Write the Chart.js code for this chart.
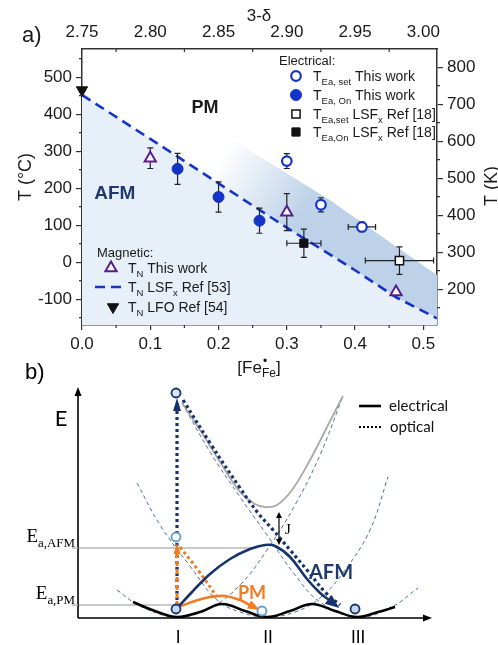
<!DOCTYPE html>
<html>
<head>
<meta charset="utf-8">
<script src="https://cdn.jsdelivr.net/npm/chart.js@4.4.1/dist/chart.umd.min.js"></script>
<style>
  html, body { margin: 0; padding: 0; background: #fff; }
  #wrap { position: relative; width: 498px; height: 645px; }
  #wrap canvas { position: absolute; left: 0; top: 0; }
</style>
</head>
<body>
<div id="wrap">
  <canvas id="phase" width="498" height="645"></canvas>
  <canvas id="scheme" width="498" height="645"></canvas>
</div>
<script>
// ---- panel a) : transition temperatures vs [Fe•Fe], T in °C ----
const afmLineX = [0, 0.1, 0.2, 0.3, 0.4, 0.46, 0.52];
const afmLineT = [452, 333, 213, 93, -22, -95, -152];
const bandTopX = [0.17, 0.25, 0.363, 0.45, 0.52];
const bandTopT = [400, 297, 168, 55, -35];

const setWorkX = [0.30, 0.35, 0.41];
const setWorkT = [273, 155, 95];
const setWorkErrT = [20, 19, 13];
const setWorkErrX = [0, 0, 0.02];

const onWorkX = [0.14, 0.20, 0.26];
const onWorkT = [252, 176, 112];
const onWorkErrT = [42, 41, 34];

const setRefX = [0.465];
const setRefT = [4];
const setRefErrT = [37];
const setRefErrX = [0.05];

const onRefX = [0.325];
const onRefT = [51];
const onRefErrT = [38];
const onRefErrX = [0.025];

const tnWorkX = [0.10, 0.30, 0.46];
const tnWorkT = [281, 135, -81];
const tnWorkErrT = [28, 50, 0];

const tnLfoX = [0];
const tnLfoT = [465];

const tempTicks = [-100, 0, 100, 200, 300, 400, 500];
const tempMinor = [-150, -50, 50, 150, 250, 350, 450, 550];
const kelvinTicks = [200, 300, 400, 500, 600, 700, 800];
const kelvinMinor = [150, 250, 350, 450, 550, 650, 750];
const feTicks = [0, 0.1, 0.2, 0.3, 0.4, 0.5];
const feMinor = [0.05, 0.15, 0.25, 0.35, 0.45];
const oxyTicks = [2.75, 2.80, 2.85, 2.90, 2.95, 3.00];
const oxyMinor = [2.775, 2.825, 2.875, 2.925, 2.975];

// ---- panel b) : configuration coordinate q (sites I, II, III at 1, 2, 3), energy E (arb.) ----
const groundQ = [0.511, 0.756, 1.0, 1.256, 1.5, 1.756, 2.0, 2.256, 2.5, 2.756, 3.0, 3.233, 3.422];
const groundE = [0.16, 0.07, 0.01, 0.06, 0.14, 0.07, 0.01, 0.07, 0.14, 0.07, 0.01, 0.06, 0.11];
const upperQ = [1.056, 1.256, 1.478, 1.7, 1.867, 1.978, 2.111, 2.278, 2.478, 2.678, 2.844];
const upperE = [2.15, 1.88, 1.56, 1.26, 1.14, 1.11, 1.13, 1.28, 1.58, 1.93, 2.22];
const paraIQ = [0.333, 0.589, 1.0, 1.367, 1.7, 2.0, 2.311, 2.589, 2.844];
const paraIE = [0.28, 0.12, 0.01, 0.10, 0.33, 0.68, 1.13, 1.63, 2.22];
const paraIIQ = [0.556, 0.811, 1.144, 1.444, 1.7, 2.0, 2.311, 2.589, 2.867, 3.144, 3.344];
const paraIIE = [1.35, 0.93, 0.52, 0.18, 0.06, 0.01, 0.06, 0.20, 0.48, 0.88, 1.41];
const paraIIIQ = [1.056, 1.367, 1.7, 2.0, 2.311, 2.589, 3.0, 3.367, 3.678];
const paraIIIE = [2.15, 1.66, 1.21, 0.83, 0.43, 0.16, 0.01, 0.10, 0.30];

const afmPathQ = [1.022, 1.167, 1.367, 1.589, 1.811, 1.978, 2.089, 2.256, 2.444, 2.589, 2.689];
const afmPathE = [0.12, 0.26, 0.44, 0.59, 0.69, 0.73, 0.72, 0.61, 0.39, 0.25, 0.18];
const pmPathQ = [1.044, 1.2, 1.367, 1.533, 1.7, 1.811];
const pmPathE = [0.12, 0.17, 0.21, 0.22, 0.18, 0.13];
const optAfmQ = [1.067, 1.367, 1.7, 1.9, 2.067, 2.256, 2.444, 2.644, 2.811];
const optAfmE = [2.18, 1.75, 1.30, 1.05, 0.88, 0.68, 0.48, 0.26, 0.13];
const optPmQ = [1.033, 1.233, 1.444];
const optPmE = [0.71, 0.48, 0.21];
const exciteQ = [1, 1];
const exciteAfmE = [0.12, 2.08];
const excitePmE = [0.12, 0.65];

const levelAfm = 0.70;
const levelPm = 0.13;
const levelAfmEnd = 1.89;
const levelPmEnd = 1.0;
const gapQ = 2.133;
const gapE = [0.73, 1.06];

const stateQ = [0.989, 0.989, 0.989, 1.944, 2.978];
const stateE = [0.09, 0.81, 2.25, 0.07, 0.09];
const siteQ = [1, 2, 3];
const siteLabels = ['I', 'II', 'III'];

// ---- styling ----
const SANS = '"Liberation Sans", Arial, sans-serif';
const SERIF = '"Liberation Serif", "DejaVu Serif", serif';
const SOFT = 'Lato, "Open Sans", sans-serif';
const axisColor = '#333';
const textColor = '#1a1a1a';
const blue = '#1434c8';
const purple = '#5a1d8c';
const navy = '#17336b';
const orange = '#ee7d24';
const lightBlue = '#5b9bd5';
const afmFill = '#e7eff8';
const bandRGB = '189,210,232';

Chart.defaults.font.family = SANS;
Chart.defaults.color = textColor;

const pts = (xs, ys) => xs.map((x, i) => ({ x, y: ys[i] }));

function richText(ctx, x, y, parts, size, family, align) {
  const sub = size * 0.68;
  const pieces = parts.map(([t, k]) => {
    ctx.font = `${k ? sub : size}px ${family}`;
    return { t, k, w: ctx.measureText(t).width };
  });
  const total = pieces.reduce((s, p) => s + p.w, 0);
  let cx = align === 'center' ? x - total / 2 : align === 'right' ? x - total : x;
  ctx.textAlign = 'left';
  ctx.textBaseline = 'alphabetic';
  pieces.forEach(p => {
    ctx.font = `${p.k ? sub : size}px ${family}`;
    const dy = p.k === 'sub' ? size * 0.28 : p.k === 'sup' ? -size * 0.42 : 0;
    ctx.fillText(p.t, cx, y + dy);
    cx += p.w;
  });
}

function arrowHead(ctx, x, y, ang, len, half) {
  const c = Math.cos(ang), s = Math.sin(ang);
  ctx.beginPath();
  ctx.moveTo(x, y);
  ctx.lineTo(x - len * c + half * s, y - len * s - half * c);
  ctx.lineTo(x - len * c - half * s, y - len * s + half * c);
  ctx.closePath();
  ctx.fill();
}

// error bars drawn just before their markers
const errorBars = {
  id: 'errorBars',
  beforeDatasetDraw(chart, args) {
    const ds = chart.data.datasets[args.index];
    if (!ds.errT && !ds.errX) return;
    const { x, y } = chart.scales;
    const ctx = chart.ctx;
    ctx.save();
    ctx.strokeStyle = '#222';
    ctx.lineWidth = 1.2;
    ds.data.forEach((p, i) => {
      const px = x.getPixelForValue(p.x), py = y.getPixelForValue(p.y);
      const et = ds.errT ? ds.errT[i] : 0, ex = ds.errX ? ds.errX[i] : 0;
      ctx.beginPath();
      if (et) {
        const t = y.getPixelForValue(p.y + et), b = y.getPixelForValue(p.y - et);
        ctx.moveTo(px, t); ctx.lineTo(px, b);
        ctx.moveTo(px - 3, t); ctx.lineTo(px + 3, t);
        ctx.moveTo(px - 3, b); ctx.lineTo(px + 3, b);
      }
      if (ex) {
        const l = x.getPixelForValue(p.x - ex), r = x.getPixelForValue(p.x + ex);
        ctx.moveTo(l, py); ctx.lineTo(r, py);
        ctx.moveTo(l, py - 3); ctx.lineTo(l, py + 3);
        ctx.moveTo(r, py - 3); ctx.lineTo(r, py + 3);
      }
      ctx.stroke();
    });
    ctx.restore();
  }
};

// minor ticks, titles, region names and the two legends of panel a)
const phaseDecor = {
  id: 'phaseDecor',
  afterDraw(chart) {
    const ctx = chart.ctx;
    const { x, y, x2, y2 } = chart.scales;
    const a = chart.chartArea;
    ctx.save();
    ctx.strokeStyle = axisColor;
    ctx.lineWidth = 1.2;
    ctx.beginPath();
    tempMinor.forEach(v => { const p = y.getPixelForValue(v); ctx.moveTo(a.left, p); ctx.lineTo(a.left - 3, p); });
    kelvinMinor.forEach(v => { const p = y2.getPixelForValue(v); ctx.moveTo(a.right, p); ctx.lineTo(a.right + 3, p); });
    feMinor.forEach(v => { const p = x.getPixelForValue(v); ctx.moveTo(p, a.bottom); ctx.lineTo(p, a.bottom + 3); });
    oxyMinor.forEach(v => { const p = x2.getPixelForValue(v); ctx.moveTo(p, a.top); ctx.lineTo(p, a.top + 3); });
    ctx.stroke();

    ctx.fillStyle = textColor;
    ctx.font = `22px ${SANS}`;
    ctx.textAlign = 'left';
    ctx.fillText('a)', 22, 42);
    ctx.font = `17px ${SANS}`;
    ctx.textAlign = 'center';
    ctx.fillText('3-\u03b4', 259, 21);

    // [Fe•Fe] with stacked charge dot and site subscript
    ctx.font = `17px ${SANS}`;
    const w1 = ctx.measureText('[Fe').width;
    ctx.font = `12px ${SANS}`;
    const w2 = ctx.measureText('Fe').width;
    ctx.font = `17px ${SANS}`;
    const w3 = ctx.measureText(']').width;
    let bx = 259 - (w1 + w2 + w3) / 2;
    const by = 373;
    ctx.textAlign = 'left';
    ctx.fillText('[Fe', bx, by);
    ctx.font = `12px ${SANS}`;
    ctx.fillText('Fe', bx + w1, by + 4);
    ctx.fillText('\u2022', bx + w1 + 1, by - 8);
    ctx.font = `17px ${SANS}`;
    ctx.fillText(']', bx + w1 + w2, by);

    ctx.font = `18px ${SANS}`;
    ctx.textAlign = 'center';
    ctx.save(); ctx.translate(31, 177); ctx.rotate(-Math.PI / 2); ctx.fillText('T (\u00b0C)', 0, 0); ctx.restore();
    ctx.save(); ctx.translate(497, 186); ctx.rotate(-Math.PI / 2); ctx.fillText('T (K)', 0, 0); ctx.restore();

    ctx.font = `bold 18px ${SANS}`;
    ctx.fillText('PM', x.getPixelForValue(0.18), y.getPixelForValue(420) + 6);
    ctx.fillStyle = '#1f3a6e';
    ctx.font = `bold 19px ${SANS}`;
    ctx.fillText('AFM', x.getPixelForValue(0.048), y.getPixelForValue(190) + 7);

    // Electrical legend
    ctx.fillStyle = textColor;
    ctx.font = `13px ${SANS}`;
    ctx.textAlign = 'left';
    ctx.fillText('Electrical:', 279, 65);
    const eRows = [
      [0, [['T', ''], ['Ea, set', 'sub'], [' This work', '']]],
      [1, [['T', ''], ['Ea, On', 'sub'], [' This work', '']]],
      [2, [['T', ''], ['Ea,set', 'sub'], [' LSF', ''], ['x', 'sub'], [' Ref [18]', '']]],
      [3, [['T', ''], ['Ea,On', 'sub'], [' LSF', ''], ['x', 'sub'], [' Ref [18]', '']]]
    ];
    const eY = [76, 95, 114, 132];
    eRows.forEach(([di, parts], i) => {
      legendMarker(ctx, chart.data.datasets[di], 296, eY[i]);
      ctx.fillStyle = textColor;
      richText(ctx, 313, eY[i] + 5, parts, 14, SANS, 'left');
    });

    // Magnetic legend
    ctx.fillStyle = textColor;
    ctx.font = `13px ${SANS}`;
    ctx.fillText('Magnetic:', 97, 257);
    legendMarker(ctx, chart.data.datasets[4], 111, 268);
    legendMarker(ctx, chart.data.datasets[5], 113, 307);
    ctx.save();
    ctx.strokeStyle = blue;
    ctx.lineWidth = 2.6;
    ctx.setLineDash([10, 6]);
    ctx.beginPath(); ctx.moveTo(95, 287); ctx.lineTo(127, 287); ctx.stroke();
    ctx.restore();
    ctx.fillStyle = textColor;
    richText(ctx, 128, 273, [['T', ''], ['N', 'sub'], [' This work', '']], 14, SANS, 'left');
    richText(ctx, 128, 292, [['T', ''], ['N', 'sub'], [' LSF', ''], ['x', 'sub'], [' Ref [53]', '']], 14, SANS, 'left');
    richText(ctx, 128, 312, [['T', ''], ['N', 'sub'], [' LFO Ref [54]', '']], 14, SANS, 'left');
    ctx.restore();
  }
};

function legendMarker(ctx, ds, px, py) {
  ctx.save();
  ctx.fillStyle = ds.pointBackgroundColor;
  ctx.strokeStyle = ds.pointBorderColor;
  ctx.lineWidth = ds.pointBorderWidth;
  Chart.helpers.drawPoint(ctx, {
    pointStyle: ds.pointStyle, radius: ds.pointRadius,
    rotation: ds.pointRotation || 0, borderWidth: ds.pointBorderWidth
  }, px, py);
  ctx.restore();
}

const fixedTicks = list => scale => { scale.ticks = list.map(v => ({ value: v })); };
const tickFont = { size: 17, family: SANS };

const phaseChart = new Chart(document.getElementById('phase'), {
  type: 'scatter',
  data: {
    datasets: [
      { label: 'TEa,set This work', data: pts(setWorkX, setWorkT), errT: setWorkErrT, errX: setWorkErrX,
        pointStyle: 'circle', pointRadius: 4.8, pointBorderWidth: 2.2, pointBorderColor: blue, pointBackgroundColor: '#fff', order: 0, clip: false },
      { label: 'TEa,On This work', data: pts(onWorkX, onWorkT), errT: onWorkErrT,
        pointStyle: 'circle', pointRadius: 5.5, pointBorderWidth: 1, pointBorderColor: blue, pointBackgroundColor: blue, order: 0, clip: false },
      { label: 'TEa,set LSFx Ref [18]', data: pts(setRefX, setRefT), errT: setRefErrT, errX: setRefErrX,
        pointStyle: 'rect', pointRadius: 5.8, pointBorderWidth: 1.5, pointBorderColor: '#111', pointBackgroundColor: '#fff', order: 0, clip: false },
      { label: 'TEa,On LSFx Ref [18]', data: pts(onRefX, onRefT), errT: onRefErrT, errX: onRefErrX,
        pointStyle: 'rect', pointRadius: 5.8, pointBorderWidth: 1, pointBorderColor: '#111', pointBackgroundColor: '#111', order: 0, clip: false },
      { label: 'TN This work', data: pts(tnWorkX, tnWorkT), errT: tnWorkErrT,
        pointStyle: 'triangle', pointRadius: 6.5, pointBorderWidth: 2, pointBorderColor: purple, pointBackgroundColor: '#fff', order: 0, clip: false },
      { label: 'TN LFO Ref [54]', data: pts(tnLfoX, tnLfoT),
        pointStyle: 'triangle', pointRotation: 180, pointRadius: 6.5, pointBorderWidth: 1, pointBorderColor: '#111', pointBackgroundColor: '#111', order: 0, clip: false },
      { label: 'TN LSFx Ref [53]', data: pts(afmLineX, afmLineT), showLine: true,
        borderColor: blue, borderWidth: 2.6, borderDash: [10, 6], pointRadius: 0,
        fill: 'start', backgroundColor: afmFill, order: 5 },
      { label: 'onset band', data: pts(bandTopX, bandTopT), showLine: true,
        borderColor: 'rgba(0,0,0,0)', borderWidth: 0, pointRadius: 0, fill: '-1', order: 6,
        backgroundColor(c) {
          const ch = c.chart;
          if (!ch.chartArea) return `rgba(${bandRGB},1)`;
          const sx = ch.scales.x, sy = ch.scales.y;
          const g = ch.ctx.createLinearGradient(sx.getPixelForValue(0.22), sy.getPixelForValue(330),
                                                sx.getPixelForValue(0.34), sy.getPixelForValue(185));
          g.addColorStop(0, `rgba(${bandRGB},0)`);
          g.addColorStop(1, `rgba(${bandRGB},1)`);
          return g;
        } }
    ]
  },
  options: {
    responsive: false,
    animation: false,
    events: [],
    layout: { padding: { left: 0, right: 0, top: 0, bottom: 285 } },
    plugins: { legend: { display: false }, tooltip: { enabled: false } },
    scales: {
      x: {
        type: 'linear', position: 'bottom', min: 0, max: 0.52,
        afterBuildTicks: fixedTicks(feTicks),
        afterFit: s => { s.height = 35; },
        ticks: { font: tickFont, color: textColor, padding: 4, maxRotation: 0, autoSkip: false, callback: v => v.toFixed(1) },
        grid: { drawOnChartArea: false, tickLength: 5, color: axisColor, lineWidth: 1.2 },
        border: { color: axisColor, width: 1.5 }
      },
      x2: {
        type: 'linear', position: 'top', min: 2.75, max: 3.01,
        afterBuildTicks: fixedTicks(oxyTicks),
        afterFit: s => { s.height = 49; },
        ticks: { font: tickFont, color: textColor, padding: 6, maxRotation: 0, autoSkip: false, callback: v => v.toFixed(2) },
        grid: { drawOnChartArea: false, drawTicks: false, tickLength: 0 },
        border: { color: axisColor, width: 1.5 }
      },
      y: {
        type: 'linear', position: 'left', min: -170, max: 576,
        afterBuildTicks: fixedTicks(tempTicks),
        afterFit: s => { s.width = 82; },
        ticks: { font: tickFont, color: textColor, padding: 4, autoSkip: false },
        grid: { drawOnChartArea: false, tickLength: 6, color: axisColor, lineWidth: 1.2 },
        border: { color: axisColor, width: 1.5 }
      },
      y2: {
        type: 'linear', position: 'right', min: -170 + 273.15, max: 576 + 273.15,
        afterBuildTicks: fixedTicks(kelvinTicks),
        afterFit: s => { s.width = 61; },
        ticks: { font: tickFont, color: textColor, padding: 4, autoSkip: false },
        grid: { drawOnChartArea: false, tickLength: 6, color: axisColor, lineWidth: 1.2 },
        border: { color: axisColor, width: 1.5 }
      }
    }
  },
  plugins: [errorBars, phaseDecor]
});

// ---- panel b) ----
const arrowHeads = {
  id: 'arrowHeads',
  afterDatasetDraw(chart, args) {
    const ds = chart.data.datasets[args.index];
    if (!ds.arrow) return;
    const pts = args.meta.data;
    const last = pts[pts.length - 1];
    let fx = pts[pts.length - 2].x, fy = pts[pts.length - 2].y;
    if (last.cp1x !== undefined && Math.hypot(last.x - last.cp1x, last.y - last.cp1y) > 0.5) { fx = last.cp1x; fy = last.cp1y; }
    const ang = Math.atan2(last.y - fy, last.x - fx);
    const { len, half } = ds.arrow;
    const ctx = chart.ctx;
    ctx.save();
    ctx.fillStyle = ds.arrow.color;
    arrowHead(ctx, last.x + len * Math.cos(ang), last.y + len * Math.sin(ang), ang, len + 1, half);
    ctx.restore();
  }
};

const schemeDecor = {
  id: 'schemeDecor',
  afterDraw(chart) {
    const ctx = chart.ctx;
    const { x, y } = chart.scales;
    const a = chart.chartArea;
    const P = (q, e) => [x.getPixelForValue(q), y.getPixelForValue(e)];
    ctx.save();
    // axes
    ctx.strokeStyle = '#000';
    ctx.fillStyle = '#000';
    ctx.lineWidth = 1.6;
    ctx.beginPath();
    ctx.moveTo(a.left, a.bottom); ctx.lineTo(a.left, a.top + 6);
    ctx.moveTo(a.left, a.bottom); ctx.lineTo(a.right - 6, a.bottom);
    ctx.stroke();
    arrowHead(ctx, a.left, a.top, -Math.PI / 2, 9, 3.5);
    arrowHead(ctx, a.right, a.bottom, 0, 9, 3.5);
    // level ticks
    ctx.strokeStyle = '#b8b8b8';
    ctx.lineWidth = 1.3;
    ctx.beginPath();
    [levelAfm, levelPm].forEach(v => { const py = y.getPixelForValue(v); ctx.moveTo(a.left - 6, py); ctx.lineTo(a.left, py); });
    ctx.stroke();

    ctx.fillStyle = '#000';
    ctx.font = `22px ${SOFT}`;
    ctx.textAlign = 'center';
    ctx.fillText('E', 61, 426);
    ctx.font = `22px ${SANS}`;
    ctx.textAlign = 'left';
    ctx.fillText('b)', 25, 379);

    // activation levels
    richText(ctx, a.left - 3, y.getPixelForValue(levelAfm) - 6, [['E', ''], ['a,AFM', 'sub']], 19, SERIF, 'right');
    richText(ctx, a.left - 3, y.getPixelForValue(levelPm) - 6, [['E', ''], ['a,PM', 'sub']], 19, SERIF, 'right');

    // site labels
    ctx.font = `17px ${SOFT}`;
    ctx.textAlign = 'center';
    siteQ.forEach((q, i) => ctx.fillText(siteLabels[i], x.getPixelForValue(q) + 1, a.bottom + 25));

    // exchange gap J
    const [jx, jb] = P(gapQ, gapE[0]);
    const jt = y.getPixelForValue(gapE[1]);
    ctx.strokeStyle = '#000';
    ctx.lineWidth = 1.2;
    ctx.beginPath(); ctx.moveTo(jx, jb - 5); ctx.lineTo(jx, jt + 5); ctx.stroke();
    arrowHead(ctx, jx, jb, Math.PI / 2, 6, 3);
    arrowHead(ctx, jx, jt, -Math.PI / 2, 6, 3);
    ctx.font = `15px ${SERIF}`;
    ctx.textAlign = 'left';
    ctx.fillText('J', jx + 6, (jb + jt) / 2 + 5);

    // path names
    ctx.textAlign = 'center';
    ctx.font = `bold 18px ${SOFT}`;
    ctx.fillStyle = orange;
    let p = P(1.833, 0.25);
    ctx.fillText('PM', p[0], p[1] + 6);
    ctx.font = `bold 20px ${SOFT}`;
    ctx.fillStyle = '#1f3a6e';
    p = P(2.711, 0.46);
    ctx.fillText('AFM', p[0], p[1] + 7);

    // legend
    ctx.strokeStyle = '#000';
    ctx.lineWidth = 2.6;
    ctx.beginPath(); ctx.moveTo(359, 406); ctx.lineTo(381, 406); ctx.stroke();
    ctx.setLineDash([2, 2]);
    ctx.lineWidth = 2.2;
    ctx.beginPath(); ctx.moveTo(359, 427); ctx.lineTo(381, 427); ctx.stroke();
    ctx.setLineDash([]);
    ctx.fillStyle = '#111';
    ctx.font = `15px ${SOFT}`;
    ctx.textAlign = 'left';
    ctx.fillText('electrical', 389, 411);
    ctx.fillText('optical', 390, 432);
    ctx.restore();
  }
};

const dashedPara = data => ({ data, showLine: true, tension: 0.4, borderColor: '#4f6f9f', borderWidth: 1,
  borderDash: [4, 3], pointRadius: 0, order: 8 });

const schemeChart = new Chart(document.getElementById('scheme'), {
  type: 'scatter',
  data: {
    datasets: [
      { label: 'states', data: pts(stateQ, stateE), pointStyle: 'circle', pointRadius: 4.5, pointBorderWidth: 1.8,
        pointBorderColor: [navy, lightBlue, navy, lightBlue, navy],
        pointBackgroundColor: ['#c9d7ec', '#fff', '#dbe5f3', '#fff', '#c9d7ec'], order: 0, clip: false },
      { label: 'Ea,AFM level', data: [{ x: -0.1, y: levelAfm }, { x: levelAfmEnd, y: levelAfm }], showLine: true,
        borderColor: '#b8b8b8', borderWidth: 1.3, pointRadius: 0, order: 10 },
      { label: 'Ea,PM level', data: [{ x: -0.1, y: levelPm }, { x: levelPmEnd, y: levelPm }], showLine: true,
        borderColor: '#b8b8b8', borderWidth: 1.3, pointRadius: 0, order: 10 },
      dashedPara(pts(paraIQ, paraIE)),
      dashedPara(pts(paraIIQ, paraIIE)),
      dashedPara(pts(paraIIIQ, paraIIIE)),
      { label: 'upper state', data: pts(upperQ, upperE), showLine: true, tension: 0.4, borderColor: '#a9a9a9',
        borderWidth: 1.8, pointRadius: 0, order: 7 },
      { label: 'ground state', data: pts(groundQ, groundE), showLine: true, tension: 0.4, borderColor: '#000',
        borderWidth: 2.6, pointRadius: 0, order: 6 },
      { label: 'optical AFM', data: pts(optAfmQ, optAfmE), showLine: true, tension: 0.4, borderColor: navy,
        borderWidth: 3.2, borderDash: [3, 3], borderCapStyle: 'butt', pointRadius: 0, order: 5 },
      { label: 'optical PM', data: pts(optPmQ, optPmE), showLine: true, tension: 0.4, borderColor: orange,
        borderWidth: 3, borderDash: [3, 3], pointRadius: 0, order: 5 },
      { label: 'electrical AFM', data: pts(afmPathQ, afmPathE), showLine: true, tension: 0.4, borderColor: navy,
        borderWidth: 2.6, pointRadius: 0, order: 4, arrow: { len: 13, half: 5.5, color: navy } },
      { label: 'electrical PM', data: pts(pmPathQ, pmPathE), showLine: true, tension: 0.4, borderColor: orange,
        borderWidth: 2.6, pointRadius: 0, order: 4, arrow: { len: 11, half: 4.5, color: orange } },
      { label: 'excitation AFM', data: pts(exciteQ, exciteAfmE), showLine: true, borderColor: navy,
        borderWidth: 3.2, borderDash: [3, 3], borderCapStyle: 'butt', pointRadius: 0, order: 3,
        arrow: { len: 12, half: 4, color: navy } },
      { label: 'excitation PM', data: pts(exciteQ, excitePmE), showLine: true, borderColor: orange,
        borderWidth: 3, borderDash: [5, 3], borderCapStyle: 'butt', pointRadius: 0, order: 2,
        arrow: { len: 10, half: 3.5, color: orange } }
    ]
  },
  options: {
    responsive: false,
    animation: false,
    events: [],
    layout: { padding: { left: 78, right: 66, top: 387, bottom: 27 } },
    plugins: { legend: { display: false }, tooltip: { enabled: false } },
    scales: {
      x: { type: 'linear', min: -0.1, max: 3.833, display: false },
      y: { type: 'linear', min: 0, max: 2.31, display: false }
    }
  },
  plugins: [arrowHeads, schemeDecor]
});
</script>
</body>
</html>
